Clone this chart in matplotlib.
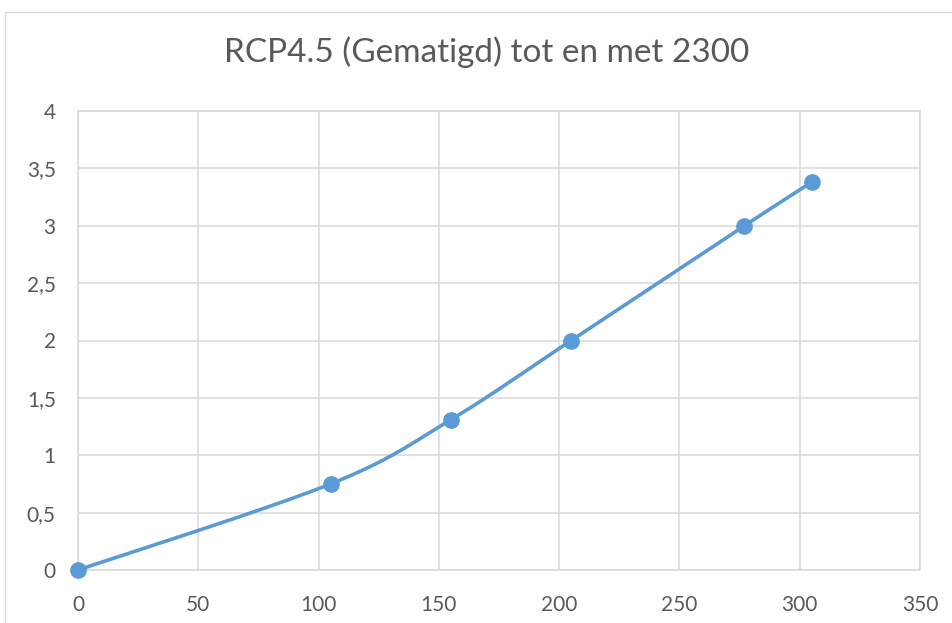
import numpy as np
import matplotlib
matplotlib.use('Agg')
import matplotlib.pyplot as plt
from matplotlib.patches import Rectangle
from matplotlib.ticker import FuncFormatter

# data
x_vals = [0, 105, 155, 205, 277, 305]
y_vals = [0, 0.75, 1.31, 2.0, 3.0, 3.38]
title = 'RCP4.5 (Gematigd) tot en met 2300'

blue = '#5B9BD5'
grey_text = '#595959'
grid_col = '#D9D9D9'

plt.rcParams['font.family'] = ['Lato', 'DejaVu Sans']


# Excel style smoothed line (Catmull-Rom bezier through the points)
def smooth_line(xs, ys, n=40):
    pts = np.column_stack([xs, ys]).astype(float)
    padded = np.vstack([pts[0], pts, pts[-1]])
    out = []
    for i in range(1, len(padded) - 2):
        p0, p1, p2, p3 = padded[i - 1], padded[i], padded[i + 1], padded[i + 2]
        c1 = p1 + (p2 - p0) / 6
        c2 = p2 - (p3 - p1) / 6
        t = np.linspace(0, 1, n)[:, None]
        seg = ((1 - t) ** 3) * p1 + 3 * ((1 - t) ** 2) * t * c1 + 3 * (1 - t) * t ** 2 * c2 + t ** 3 * p2
        out.append(seg)
    curve = np.vstack(out)
    return curve[:, 0], curve[:, 1]


fig = plt.figure(figsize=(9.53, 6.23), dpi=100)
ax = fig.add_axes([78 / 953, 1 - 570 / 623, 842 / 953, 459 / 623])

# chart border
fig.patches.append(Rectangle((5 / 953, -0.1), 1.2, 1.1 - 12 / 623, transform=fig.transFigure,
                             fill=False, edgecolor='#D9D9D9', linewidth=1.0))

sx, sy = smooth_line(x_vals, y_vals)
ax.plot(sx, sy, color=blue, linewidth=2.6, solid_capstyle='round', zorder=3)
ax.plot(x_vals, y_vals, 'o', color=blue, markersize=11, zorder=4, clip_on=False)

ax.set_xlim(0, 350)
ax.set_ylim(0, 4)
ax.set_xticks(np.arange(0, 351, 50))
ax.set_yticks(np.arange(0, 4.01, 0.5))
ax.yaxis.set_major_formatter(FuncFormatter(lambda v, p: ('%g' % v).replace('.', ',')))
ax.grid(True, color=grid_col, linewidth=1.1)
ax.set_axisbelow(True)
for s in ax.spines.values():
    s.set_color(grid_col)
    s.set_linewidth(1.1)
ax.tick_params(length=0, labelsize=15, colors=grey_text)
ax.tick_params(axis='y', pad=16)
ax.tick_params(axis='x', pad=18)

fig.text(487 / 953, 1 - 52 / 623, title, ha='center', va='center', fontsize=24,
         color=grey_text)

fig.savefig('out.png', dpi=100)
